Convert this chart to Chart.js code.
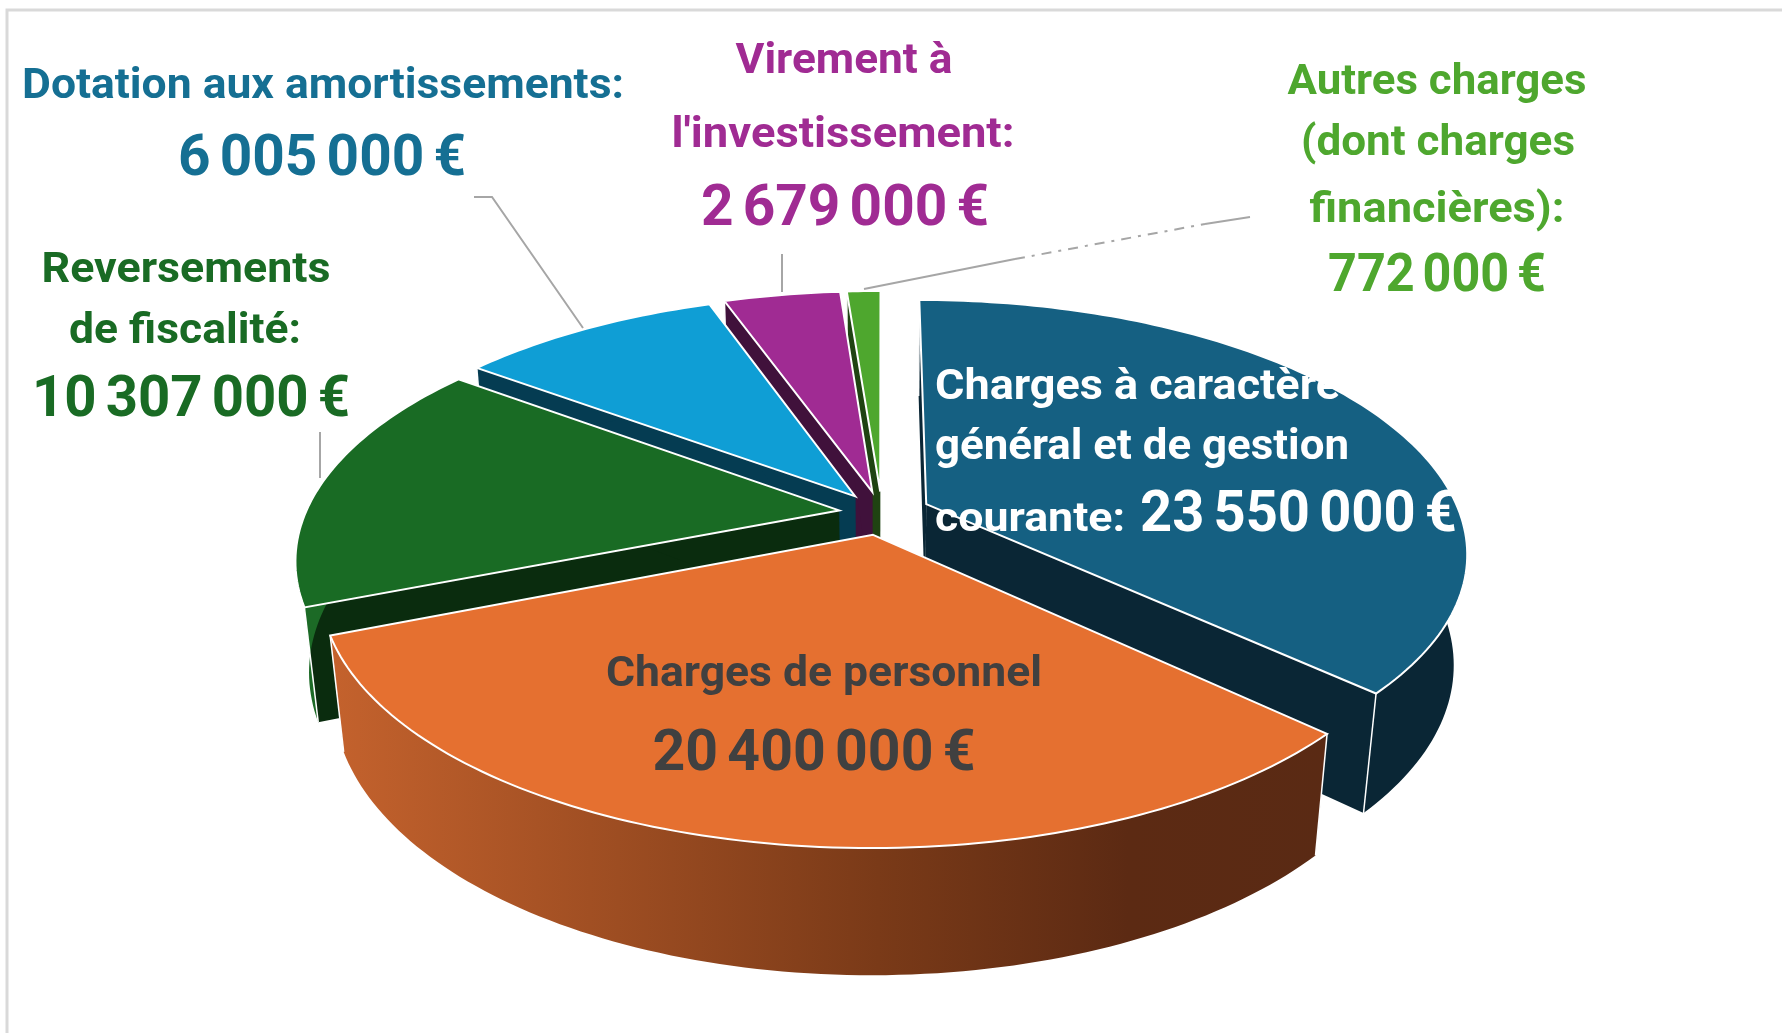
<!DOCTYPE html>
<html><head><meta charset="utf-8">
<style>html,body{margin:0;padding:0;background:#fff;width:1782px;height:1033px;overflow:hidden}
#wrap{position:relative;width:1782px;height:1033px}
canvas{position:absolute;left:0;top:0}</style>
<script src="https://cdn.jsdelivr.net/npm/chart.js@4"></script></head>
<body><div id="wrap"><canvas id="c" width="1782" height="1033"></canvas></div>
<script>
const categories=["Charges à caractère général et de gestion courante","Charges de personnel","Reversements de fiscalité","Dotation aux amortissements","Virement à l'investissement","Autres charges (dont charges financières)"];
const values=[23550000,20400000,10307000,6005000,2679000,772000];
const topColors=["#156082","#E57030","#196B24","#0F9ED5","#A02B93","#4EA72E"];
const wallColors=["#0A2635","#6a2f12","#0a2c0e","#053C52","#40113b","#1f4312"];
const outerWallColors=["#0A2635","#6a2f12","#1c6a26","#053C52","#40113b","#1f4312"];
const explode=[47,46,42,44,46,46];
const labels=[
 {c:"#156F93",l:[["Dotation aux amortissements:",42,323,98,602],["6 005 000 €",58,322,175,288]]},
 {c:"#A02B93",l:[["Virement à",42,844,73,217],["l'investissement:",42,843,147,343],["2 679 000 €",58,845,225,288]]},
 {c:"#4EA72E",l:[["Autres charges",42,1437,94,299],["(dont charges",42,1438,155,274],["financières):",42,1437,222,255],["772 000 €",54,1437,291,218]]},
 {c:"#196B24",l:[["Reversements",42,186,282,289],["de fiscalité:",42,185,343,232],["10 307 000 €",58,191,416,318]]},
 {c:"#ffffff",a:"left",l:[["Charges à caractère",42,935,399,405],["général et de gestion",42,935,459,414]]},
 {c:"#ffffff",a:"left",l:[["courante:",40,935,531,190],["23 550 000 €",58,1140,531,317]]},
 {c:"#404040",l:[["Charges de personnel",42,824,686,436],["20 400 000 €",58,814,770,323]]}
];
const leaders=[[[474,197],[492,197],[583,328]],[[782,254],[782,292]],[[320,432],[320,478]]];
const cx=882,cy=513,elev=Math.asin(0.46),persp=0.187,H=122,zoom=1.033;
const sE=Math.sin(elev),cE=Math.cos(elev);
function proj(u,v,z,R){const D=R*cE/persp;const x=u,y=v*sE-z*cE,d=D-v*cE-z*sE;return [cx+zoom*D*x/d,cy+zoom*D*y/d];}
const plugin3d={id:'pie3d',beforeDatasetDraw(chart,args){
 const ctx=chart.ctx;const arcs=chart.getDatasetMeta(0).data;
 const order=arcs.map((a,i)=>{const p=a.getProps(['startAngle','endAngle','outerRadius','x','y'],true);
   const m=(p.startAngle+p.endAngle)/2;return {i,m,s:p.startAngle,e:p.endAngle,R:p.outerRadius,ox:explode[i]*Math.cos(m),oy:explode[i]*Math.sin(m)};
 }).sort((a,b)=>Math.sin(a.m)-Math.sin(b.m));
 ctx.save();
 const Rmax=order[0].R;
 for(const o of order){
  const N=Math.max(6,Math.ceil((o.e-o.s)/0.02));
  const pt=(a,r,z)=>proj(o.ox+r*Math.cos(a),o.oy+r*Math.sin(a),z,Rmax);
  const poly=(pts,fill,stroke,lw)=>{ctx.beginPath();pts.forEach((q,k)=>k?ctx.lineTo(q[0],q[1]):ctx.moveTo(q[0],q[1]));ctx.closePath();ctx.fillStyle=fill;ctx.fill();if(stroke){ctx.strokeStyle=stroke;ctx.lineWidth=lw;ctx.stroke();}};
  const wc=wallColors[o.i];
  for(const a of [o.s,o.e]) poly([pt(a,0,0),pt(a,o.R,0),pt(a,o.R,-H),pt(a,0,-H)],wc);
  const top=[],bot=[];for(let k=0;k<=N;k++){const a=o.s+(o.e-o.s)*k/N;top.push(pt(a,o.R,0));bot.push(pt(a,o.R,-H));}
  let fill=outerWallColors[o.i];
  if(o.i===1){const xs=top.concat(bot).map(q=>q[0]);const g=ctx.createLinearGradient(Math.max(...xs),0,Math.min(...xs),0);g.addColorStop(0,"#5a2a14");g.addColorStop(0.2,"#5c2a13");g.addColorStop(0.45,"#7a3a18");g.addColorStop(1,"#c4622d");fill=g;}
  poly(top.concat(bot.slice().reverse()),fill);
  ctx.strokeStyle="#fff";ctx.lineWidth=1.5;
  for(const a of [o.s,o.e]){const p=pt(a,o.R,0),q=pt(a,o.R,-H);ctx.beginPath();ctx.moveTo(p[0],p[1]);ctx.lineTo(q[0],q[1]);ctx.stroke();}
  poly([pt(0,0,0)].concat(top),topColors[o.i],"#fff",2);
 }
 ctx.restore();
 return false;
},afterDatasetsDraw(chart){
 const ctx=chart.ctx;ctx.save();
 ctx.strokeStyle="#d9d9d9";ctx.lineWidth=3;ctx.beginPath();ctx.moveTo(7,1033);ctx.lineTo(7,10);ctx.lineTo(1782,10);ctx.stroke();
 ctx.strokeStyle="#a6a6a6";ctx.lineWidth=2;
 for(const L of leaders){ctx.beginPath();L.forEach((q,k)=>k?ctx.lineTo(q[0],q[1]):ctx.moveTo(q[0],q[1]));ctx.stroke();}
 ctx.beginPath();ctx.moveTo(864,289);ctx.lineTo(1015,259);ctx.stroke();
 ctx.setLineDash([10,7,3,7]);ctx.beginPath();ctx.moveTo(1015,259);ctx.lineTo(1205,224);ctx.stroke();ctx.setLineDash([]);
 ctx.beginPath();ctx.moveTo(1205,224);ctx.lineTo(1250,217);ctx.stroke();
 ctx.textBaseline="alphabetic";
 for(const b of labels){ctx.fillStyle=b.c;ctx.textAlign=b.a||"center";
  for(const t of b.l){
   ctx.font="bold "+t[1]+"px Roboto";
   ctx.wordSpacing=/^\d/.test(t[0])?"-5px":"0px";
   const sx=t[4]/ctx.measureText(t[0]).width;
   ctx.save();ctx.translate(t[2],t[3]);ctx.scale(sx,1);ctx.fillText(t[0],0,0);ctx.restore();
  }}
 ctx.restore();
}};
new Chart(document.getElementById('c'),{type:'pie',
 data:{labels:categories,datasets:[{data:values,backgroundColor:topColors,borderWidth:0}]},
 options:{responsive:false,animation:false,rotation:0,
  plugins:{legend:{display:false},tooltip:{enabled:false}}},
 plugins:[plugin3d]});
</script></body></html>
